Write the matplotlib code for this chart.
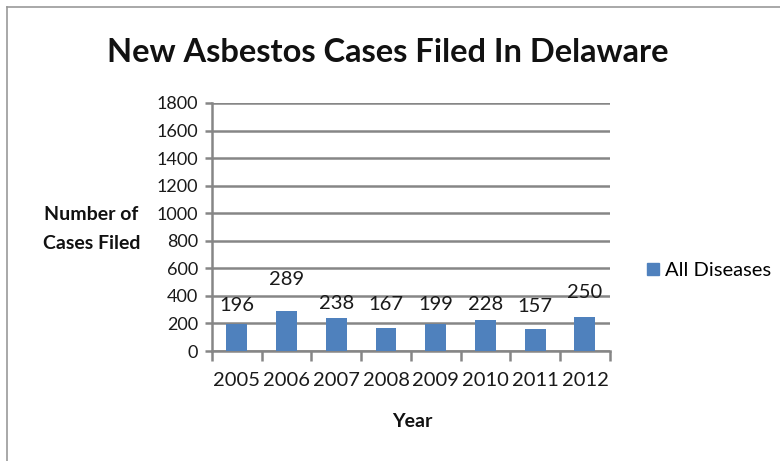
import matplotlib.pyplot as plt
import numpy as np
from matplotlib.lines import Line2D

# Asbestos cases filed in Delaware, per year
years = ["2005", "2006", "2007", "2008", "2009", "2010", "2011", "2012"]
cases = [196, 289, 238, 167, 199, 228, 157, 250]
series_name = "All Diseases"
y_ticks = [0, 200, 400, 600, 800, 1000, 1200, 1400, 1600, 1800]

# label offsets above the bar tops (pixels), as laid out in the original
label_offsets = [18, 32, 15, 23, 19, 15, 23, 24]

plt.rcParams['font.family'] = ['Lato', 'DejaVu Sans']

bar_color = '#4F81BD'
grid_color = '#868686'
text_color = '#1a1a1a'

fig = plt.figure(figsize=(7.8, 4.61), dpi=100)
ax = fig.add_axes([0.2718, 0.2386, 0.510, 0.538])

x = np.arange(len(years))
ax.bar(x, cases, width=0.42, color=bar_color, zorder=3, label=series_name)

for xi, val, off in zip(x, cases, label_offsets):
    ax.annotate(str(val), (xi, val), xytext=(0, off), textcoords='offset pixels',
                ha='center', va='center', fontsize=14.5, color=text_color)

ax.set_xlim(-0.5, len(years) - 0.5)
ax.set_ylim(0, 1800)
ax.set_yticks(y_ticks)
ax.set_yticklabels([str(v) for v in y_ticks])
ax.set_xticks(x)
ax.set_xticklabels(years)
ax.set_xticks(np.arange(len(years) + 1) - 0.5, minor=True)

ax.grid(axis='y', color=grid_color, linewidth=1.8, zorder=0)
for s in ['top', 'right']:
    ax.spines[s].set_visible(False)
for s in ['left', 'bottom']:
    ax.spines[s].set_color(grid_color)
    ax.spines[s].set_linewidth(1.8)

ax.tick_params(axis='y', length=5, width=1.8, color=grid_color, labelsize=13,
               labelcolor=text_color, pad=5)
ax.tick_params(axis='x', which='major', length=0, labelsize=14.5,
               labelcolor=text_color, pad=15)
ax.tick_params(axis='x', which='minor', length=7, width=1.8, color=grid_color)

fig.text(0.497, 0.8655, "New Asbestos Cases Filed In Delaware", ha='center', va='baseline',
         fontsize=23.5, color='#111111', fontweight='bold')
fig.text(0.117, 0.503, "Number of\nCases Filed", ha='center', va='center',
         fontsize=14, fontweight='bold', color='#111111', linespacing=1.85)
fig.text(0.529, 0.085, "Year", ha='center', va='center',
         fontsize=14, fontweight='bold', color='#111111')

handle = Line2D([], [], marker='s', linestyle='none', markersize=8,
                markerfacecolor=bar_color, markeredgecolor=bar_color)
fig.legend([handle], [series_name], loc='center left', bbox_to_anchor=(0.815, 0.413),
           frameon=False, fontsize=14.5, handletextpad=0.15, handlelength=0.9,
           borderaxespad=0)

# outer frame of the original screenshot
fig.add_artist(Line2D([0.009, 1.0], [0.985, 0.985], color='#999999', linewidth=1.2))
fig.add_artist(Line2D([0.009, 0.009], [0.0, 0.985], color='#999999', linewidth=1.2))

plt.savefig('out.png', dpi=100)
